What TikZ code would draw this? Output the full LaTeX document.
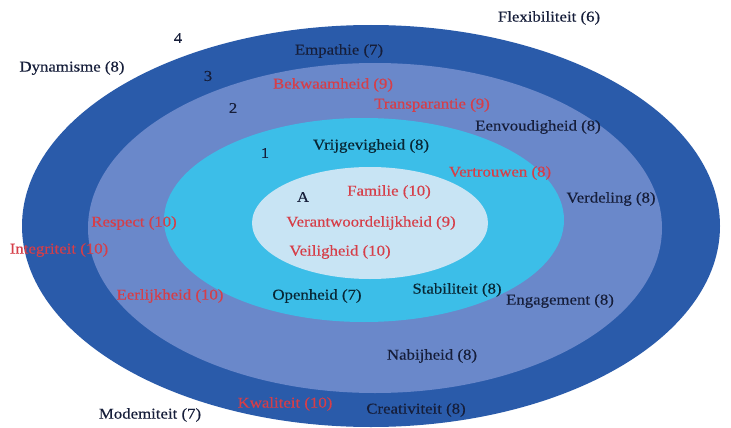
\documentclass[tikz,border=0pt]{standalone}
\usepackage{fontspec}
\setmainfont{Liberation Serif}[FakeStretch=1.12,FakeBold=0.4]
\definecolor{ringfour}{RGB}{42,91,170}
\definecolor{ringthree}{RGB}{106,136,202}
\definecolor{ringtwo}{RGB}{60,190,232}
\definecolor{ringone}{RGB}{200,228,244}
\definecolor{redtxt}{RGB}{214,62,72}
\definecolor{darktxt}{RGB}{22,30,58}
\definecolor{tealtxt}{RGB}{8,38,52}
\tikzset{
  lbl/.style={inner sep=0pt, font=\fontsize{15}{17}\selectfont},
  rlbl/.style={lbl, text=redtxt},
  dlbl/.style={lbl, text=darktxt},
  tlbl/.style={lbl, text=tealtxt},
}
\begin{document}
\begin{tikzpicture}[x=1pt,y=-1pt]
\useasboundingbox (0,0) rectangle (731,428);
\fill[white] (0,0) rectangle (731,428);
\fill[ringfour] (371,226) ellipse [x radius=349, y radius=201];
\fill[ringthree] (375,228) ellipse [x radius=287, y radius=165];
\fill[ringtwo] (364,220) ellipse [x radius=200, y radius=102];
\fill[ringone] (370,223) ellipse [x radius=118, y radius=56];

\node[dlbl] (n4) at (178,38) {4};
\node[dlbl] (n3) at (208,76) {3};
\node[dlbl] (n2) at (233,108) {2};
\node[dlbl] (n1) at (265,153) {1};
\node[dlbl] (nA) at (303,197) {A};

\node[dlbl] (flex) at (549,18) {Flexibiliteit (6)};
\node[dlbl] (dyn) at (72,68) {Dynamisme (8)};
\node[dlbl] (emp) at (339,51) {Empathie (7)};
\node[rlbl] (bek) at (333,85) {Bekwaamheid (9)};
\node[rlbl] (tra) at (432,105) {Transparantie (9)};
\node[dlbl] (een) at (538,127) {Eenvoudigheid (8)};
\node[tlbl] (vri) at (371,146) {Vrijgevigheid (8)};
\node[rlbl] (ver) at (500,173) {Vertrouwen (8)};
\node[rlbl] (fam) at (389,192) {Familie (10)};
\node[dlbl] (vdl) at (611,199) {Verdeling (8)};
\node[rlbl] (vaw) at (371,223) {Verantwoordelijkheid (9)};
\node[rlbl] (res) at (134,223) {Respect (10)};
\node[rlbl] (int) at (59,250) {Integriteit (10)};
\node[rlbl] (vei) at (340,252) {Veiligheid (10)};
\node[rlbl] (eer) at (170,296) {Eerlijkheid (10)};
\node[tlbl] (ope) at (317,296) {Openheid (7)};
\node[tlbl] (sta) at (457,290) {Stabiliteit (8)};
\node[dlbl] (eng) at (560,301) {Engagement (8)};
\node[dlbl] (nab) at (432,356) {Nabijheid (8)};
\node[rlbl] (kwa) at (285,404) {Kwaliteit (10)};
\node[dlbl] (mod) at (150,415) {Modemiteit (7)};
\node[dlbl] (cre) at (416,410) {Creativiteit (8)};
\end{tikzpicture}
\end{document}
